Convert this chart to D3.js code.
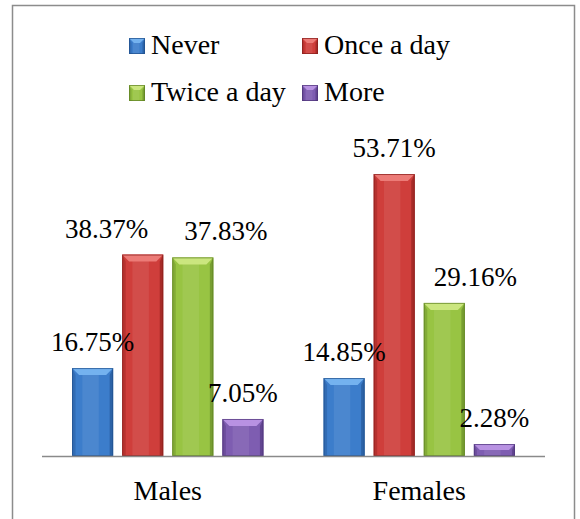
<!DOCTYPE html>
<html>
<head>
<meta charset="utf-8">
<script src="https://cdn.jsdelivr.net/npm/d3@7"></script>
</head>
<body style="margin:0">
<svg id="chart" width="580" height="519"></svg>
<script>
// frequency chart, males vs females

var groups = ['Males', 'Females'];
var series = ['Never', 'Once a day', 'Twice a day', 'More'];
var males = [16.75, 38.37, 37.83, 7.05];
var females = [14.85, 53.71, 29.16, 2.28];
var values = [males, females];

// label nudges (Excel moved a few labels to keep them apart)
var labelShift = {'Males|Once a day': -36, 'Males|Twice a day': 33, 'Females|Twice a day': 31};

var colors = {
    'Never':       {base: '#3c7dcb', light: '#74b2ef', dark: '#1f4e8a'},
    'Once a day':  {base: '#cf3e3b', light: '#ec7b77', dark: '#861c1a'},
    'Twice a day': {base: '#98c443', light: '#cbe67f', dark: '#5d7f22'},
    'More':        {base: '#7e5db1', light: '#b892e2', dark: '#4b3276'}
};

var svg = d3.select('svg#chart');

// frame
svg.append('rect')
    .attr('x', 12.5).attr('y', 5.5)
    .attr('width', 562).attr('height', 530)
    .attr('fill', 'none').attr('stroke', '#8c8c8c').attr('stroke-width', 1.5);

var x0 = d3.scaleBand().domain(groups).range([42, 545]);
var x1 = d3.scaleBand().domain(series).range([0, x0.bandwidth()])
    .paddingInner(0.18).paddingOuter(0.6);
var y = d3.scaleLinear().domain([0, 60]).range([456, 141]);

function drawBar(sel, x, top, w, h, i, bevel){
    var c = colors[series[i]];
    var b = Math.min(bevel, h / 2, w / 2);
    sel.append('rect')
        .attr('x', x).attr('y', top).attr('width', w).attr('height', h)
        .attr('fill', c.base);
    // soft highlight down the middle
    sel.append('rect')
        .attr('x', x + w * 0.25).attr('y', top).attr('width', w * 0.4).attr('height', h)
        .attr('fill', '#fff').attr('opacity', 0.08);
    // top bevel
    sel.append('polygon')
        .attr('points', [[x, top], [x + w, top], [x + w - b, top + b], [x + b, top + b]].join(' '))
        .attr('fill', c.light);
    // side bevels
    sel.append('polygon')
        .attr('points', [[x, top], [x + b * 0.5, top + b], [x + b * 0.5, top + h], [x, top + h]].join(' '))
        .attr('fill', c.dark).attr('opacity', 0.35);
    sel.append('polygon')
        .attr('points', [[x + w, top], [x + w - b * 0.5, top + b], [x + w - b * 0.5, top + h], [x + w, top + h]].join(' '))
        .attr('fill', c.dark).attr('opacity', 0.55);
    sel.append('rect')
        .attr('x', x + 0.5).attr('y', top + 0.5).attr('width', w - 1).attr('height', h - 1)
        .attr('fill', 'none').attr('stroke', c.dark).attr('stroke-width', 1).attr('opacity', 0.7);
}

var plot = svg.append('g');

groups.forEach(function(grp, gi){
    series.forEach(function(s, si){
        var v = values[gi][si];
        var bx = x0(grp) + x1(s);
        var top = y(v);
        drawBar(plot.append('g'), bx, top, x1.bandwidth(), y(0) - top, si, 7);
    });
});

// axis line
svg.append('line')
    .attr('x1', x0.range()[0]).attr('x2', x0.range()[1])
    .attr('y1', y(0) + 0.5).attr('y2', y(0) + 0.5)
    .attr('stroke', '#8a8a8a').attr('stroke-width', 1.5);

// data labels
groups.forEach(function(grp, gi){
    series.forEach(function(s, si){
        var v = values[gi][si];
        var cx = x0(grp) + x1(s) + x1.bandwidth() / 2 + (labelShift[grp + '|' + s] || 0);
        svg.append('text')
            .attr('x', cx).attr('y', y(v) - 17)
            .attr('text-anchor', 'middle')
            .attr('font-family', 'Liberation Serif')
            .attr('font-size', 27)
            .text(v.toFixed(2) + '%');
    });
});

// category labels
groups.forEach(function(grp){
    svg.append('text')
        .attr('x', x0(grp) + x0.bandwidth() / 2).attr('y', 500)
        .attr('text-anchor', 'middle')
        .attr('font-family', 'Liberation Serif')
        .attr('font-size', 28)
        .text(grp);
});

// legend
var legendX = [129, 302], legendY = [54, 101];
series.forEach(function(s, i){
    var lx = legendX[i % 2], ly = legendY[Math.floor(i / 2)];
    drawBar(svg.append('g'), lx, ly - 16, 16, 16, i, 5);
    svg.append('text')
        .attr('x', lx + 22).attr('y', ly)
        .attr('font-family', 'Liberation Serif')
        .attr('font-size', 28)
        .text(s);
});
</script>
</body>
</html>
